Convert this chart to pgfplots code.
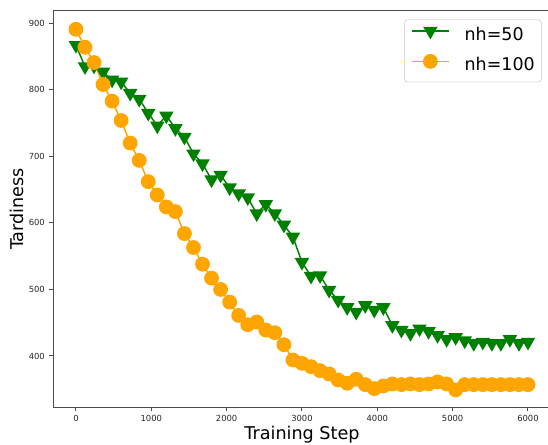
\documentclass[border=0pt]{standalone}
\usepackage{fontspec}
\setmainfont{DejaVu Sans}
\usepackage{pgfplots}
\pgfplotsset{compat=1.18}
\definecolor{mgreen}{HTML}{008000}
\definecolor{morange}{HTML}{FFA500}
\pgfplotstableread{
x y
0 867
120 835
240 836
360 827
480 815
600 812
720 795
840 786
960 765
1080 746
1200 761
1320 742
1440 729
1560 704
1680 689
1800 665
1920 672
2040 653
2160 644
2280 638
2400 614
2520 628
2640 614
2760 597
2880 579
3000 541
3120 520
3240 521
3360 499
3480 484
3600 473
3720 466
3840 476
3960 469
4080 473
4200 446
4320 439
4440 434
4560 441
4680 437
4800 431
4920 425
5040 428
5160 423
5280 419
5400 421
5520 419
5640 419
5760 425
5880 419
6000 421
}\nhfifty
\pgfplotstableread{
x y
0 891
120 864
240 841
360 808
480 783
600 754
720 720
840 694
960 662
1080 642
1200 624
1320 617
1440 584
1560 563
1680 538
1800 517
1920 500
2040 481
2160 461
2280 447
2400 451
2520 439
2640 435
2760 417
2880 394
3000 389
3120 384
3240 378
3360 373
3480 364
3600 359
3720 365
3840 357
3960 351
4080 355
4200 358
4320 357
4440 358
4560 357
4680 358
4800 361
4920 358
5040 349
5160 357
5280 357
5400 357
5520 357
5640 357
5760 357
5880 357
6000 357
}\nhhundred
\begin{document}
\begin{tikzpicture}
\useasboundingbox (-40pt,-28.3pt) rectangle (371.05pt,305.45pt);
\clip (-40pt,-28.3pt) rectangle (371.05pt,305.45pt);
\begin{axis}[
  name=ax, at={(0,0)}, anchor=south west,
  scale only axis,
  width=373pt, height=297.45pt,
  xmin=-300, xmax=6300, ymin=323, ymax=919,
  xtick={0,1000,...,6000}, ytick={400,500,...,900},
  tick align=outside, major tick length=3pt,
  xtick pos=left, ytick pos=left,
  axis line style={black!70, line width=0.75pt},
  tick style={black!70, line width=0.75pt},
  tick label style={font=\fontsize{6.3}{7}\selectfont, text=black!85},
  xticklabel style={inner sep=0pt, anchor=north, yshift=-2.8pt},
  yticklabel style={inner sep=0pt, anchor=east, xshift=-3.2pt},
  /pgf/number format/assume math mode=true,
  /pgf/number format/1000 sep={},
  xlabel={Training Step}, ylabel={Tardiness},
  every axis x label/.style={at={(axis description cs:0.5,-0.0812)}, anchor=base, font=\fontsize{13.2}{15}\selectfont},
  every axis y label/.style={at={(axis description cs:-0.0603,0.5)}, rotate=90, anchor=base, font=\fontsize{13.2}{15}\selectfont},
  legend cell align=left,
  legend style={at={(axis description cs:1,1)}, anchor=north east, xshift=-6.6pt, yshift=-6.45pt,
    draw=black!15, line width=0.6pt, rounded corners=2.5pt, fill=white,
    font=\fontsize{13.1}{15}\selectfont, inner xsep=5pt, inner ysep=5.5pt,
    nodes={inner sep=0pt, text height=10pt, text depth=3pt},
    row sep=7.8pt,
    /tikz/every odd column/.style={column sep=11.25pt}},
  legend image code/.code={\draw[mark repeat=2,mark phase=2,#1] plot coordinates {(0pt,3.5pt) (13.875pt,3.5pt) (27.75pt,3.5pt)};},
]
\addplot[color=mgreen, line width=1.1pt, mark=triangle*, mark size=5.2pt, mark options={solid, rotate=180, fill=mgreen, draw=mgreen}] table[x=x,y=y] {\nhfifty};
\addlegendentry{nh=50}
\addplot[color=morange, line width=1.1pt, mark=*, mark size=5pt, mark options={solid, fill=morange, draw=morange}] table[x=x,y=y] {\nhhundred};
\addlegendentry{nh=100}
\end{axis}
\end{tikzpicture}
\end{document}
